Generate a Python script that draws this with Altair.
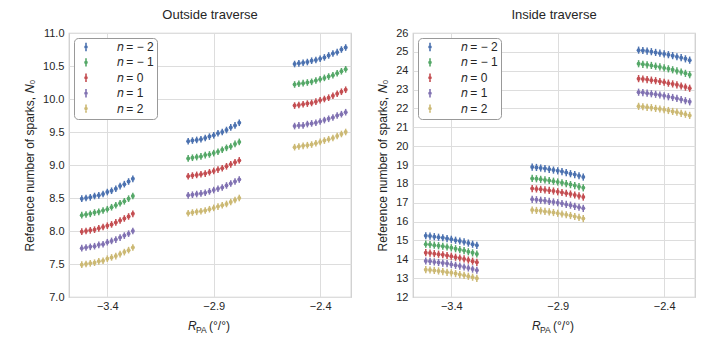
import altair as alt
import pandas as pd

CENTERS = [-3.4, -2.9, -2.4]
OFFSETS = [-0.12, -0.10, -0.08, -0.06, -0.04, -0.02, 0.0, 0.02, 0.04, 0.06, 0.08, 0.10, 0.12]
SERIES = ["\U0001D45B = \u2212 2", "\U0001D45B = \u2212 1", "\U0001D45B = 0", "\U0001D45B = 1", "\U0001D45B = 2"]
COLORS = ["#4C72B0", "#55A868", "#C44E52", "#8172B2", "#CCB974"]

# Outside traverse, one list per series (n=-2..2) for each cluster
OUT_C1 = [
    [8.49, 8.50, 8.51, 8.53, 8.54, 8.56, 8.59, 8.61, 8.64, 8.68, 8.71, 8.75, 8.79],
    [8.24, 8.25, 8.26, 8.28, 8.29, 8.31, 8.33, 8.36, 8.39, 8.42, 8.45, 8.49, 8.53],
    [7.99, 8.00, 8.01, 8.02, 8.04, 8.06, 8.08, 8.10, 8.13, 8.16, 8.19, 8.22, 8.26],
    [7.74, 7.75, 7.76, 7.77, 7.79, 7.80, 7.83, 7.85, 7.87, 7.90, 7.93, 7.96, 8.00],
    [7.49, 7.50, 7.51, 7.52, 7.54, 7.55, 7.58, 7.60, 7.62, 7.65, 7.68, 7.71, 7.75],
]
OUT_C2 = [
    [9.36, 9.37, 9.38, 9.39, 9.41, 9.43, 9.45, 9.48, 9.50, 9.53, 9.57, 9.60, 9.64],
    [9.10, 9.11, 9.12, 9.13, 9.15, 9.16, 9.18, 9.20, 9.23, 9.26, 9.28, 9.32, 9.35],
    [8.83, 8.84, 8.85, 8.86, 8.87, 8.89, 8.91, 8.93, 8.95, 8.98, 9.01, 9.04, 9.07],
    [8.54, 8.55, 8.56, 8.57, 8.58, 8.60, 8.62, 8.64, 8.66, 8.69, 8.72, 8.75, 8.78],
    [8.27, 8.28, 8.29, 8.30, 8.31, 8.33, 8.35, 8.37, 8.39, 8.41, 8.44, 8.47, 8.50],
]
OUT_C3 = [
    [10.53, 10.54, 10.55, 10.56, 10.58, 10.59, 10.61, 10.63, 10.66, 10.69, 10.71, 10.75, 10.78],
    [10.22, 10.23, 10.24, 10.25, 10.26, 10.28, 10.30, 10.32, 10.34, 10.36, 10.39, 10.42, 10.45],
    [9.90, 9.91, 9.92, 9.93, 9.94, 9.96, 9.98, 10.00, 10.02, 10.05, 10.08, 10.11, 10.14],
    [9.59, 9.60, 9.60, 9.62, 9.63, 9.64, 9.66, 9.68, 9.70, 9.72, 9.75, 9.77, 9.80],
    [9.27, 9.28, 9.29, 9.30, 9.31, 9.33, 9.35, 9.37, 9.39, 9.41, 9.44, 9.47, 9.50],
]
# Inside traverse
IN_C1 = [
    [15.25, 15.23, 15.20, 15.17, 15.14, 15.10, 15.06, 15.01, 14.97, 14.92, 14.86, 14.80, 14.74],
    [14.80, 14.78, 14.75, 14.72, 14.69, 14.65, 14.61, 14.56, 14.51, 14.46, 14.40, 14.34, 14.28],
    [14.35, 14.33, 14.30, 14.27, 14.24, 14.20, 14.16, 14.11, 14.07, 14.02, 13.96, 13.90, 13.84],
    [13.91, 13.89, 13.86, 13.83, 13.80, 13.77, 13.73, 13.68, 13.64, 13.59, 13.54, 13.48, 13.42],
    [13.45, 13.43, 13.41, 13.38, 13.35, 13.31, 13.28, 13.24, 13.19, 13.15, 13.10, 13.05, 12.99],
]
IN_C2 = [
    [18.89, 18.87, 18.84, 18.81, 18.77, 18.73, 18.69, 18.65, 18.60, 18.54, 18.49, 18.43, 18.36],
    [18.29, 18.27, 18.24, 18.21, 18.18, 18.14, 18.10, 18.06, 18.01, 17.96, 17.91, 17.85, 17.79],
    [17.75, 17.73, 17.71, 17.68, 17.65, 17.62, 17.58, 17.54, 17.50, 17.46, 17.41, 17.36, 17.30],
    [17.18, 17.16, 17.13, 17.11, 17.07, 17.04, 17.00, 16.96, 16.91, 16.87, 16.81, 16.76, 16.70],
    [16.61, 16.59, 16.57, 16.54, 16.51, 16.48, 16.44, 16.40, 16.36, 16.32, 16.27, 16.22, 16.16],
]
IN_C3 = [
    [25.09, 25.07, 25.04, 25.01, 24.97, 24.93, 24.89, 24.85, 24.80, 24.74, 24.69, 24.63, 24.56],
    [24.37, 24.34, 24.31, 24.28, 24.24, 24.20, 24.15, 24.10, 24.05, 23.99, 23.93, 23.86, 23.79],
    [23.58, 23.56, 23.53, 23.50, 23.47, 23.43, 23.39, 23.34, 23.30, 23.25, 23.19, 23.13, 23.07],
    [22.86, 22.84, 22.81, 22.78, 22.75, 22.71, 22.67, 22.62, 22.58, 22.53, 22.47, 22.41, 22.35],
    [22.11, 22.09, 22.06, 22.04, 22.00, 21.97, 21.93, 21.89, 21.84, 21.80, 21.74, 21.69, 21.63],
]
OUT_ERR = 0.05
IN_ERR = 0.19

OUT_YTICKS = [7.0, 7.5, 8.0, 8.5, 9.0, 9.5, 10.0, 10.5, 11.0]
IN_YTICKS = list(range(12, 27))
XTICKS = [-3.4, -2.9, -2.4]

FONT = "Liberation Sans"
W, H = 282, 264


def build(clusters, err):
    rows = []
    for c, cl in zip(CENTERS, clusters):
        for s, vals in zip(SERIES, cl):
            for o, v in zip(OFFSETS, vals):
                rows.append({"x": round(c + o, 3), "y": v, "lo": v - err, "hi": v + err, "n": s})
    return pd.DataFrame(rows)


def panel(df, title, ydom, yticks, yfmt):
    xenc = alt.X("x:Q", scale=alt.Scale(domain=[-3.58, -2.255], nice=False, zero=False),
                 axis=alt.Axis(values=XTICKS, format=".1f", title=None, labelOverlap=False))
    yscale = alt.Scale(domain=ydom, nice=False, zero=False)
    yaxis = alt.Axis(values=yticks, format=yfmt, labelOverlap=False,
                     title="Reference number of sparks, \U0001D441\u2080")
    leg = alt.Legend(title=None, orient="top-left", offset=5, padding=3,
                     strokeColor="#999999", cornerRadius=4, fillColor="white",
                     symbolType="M0,-1V1M-0.24,0A0.24,0.24 0 1,0 0.24,0A0.24,0.24 0 1,0 -0.24,0",
                     symbolSize=70, symbolStrokeWidth=1.6, symbolOffset=3, labelFontSize=12,
                     labelOffset=25, rowPadding=-0.6, labelFont=FONT, labelColor="#262626")
    cenc = alt.Color("n:N", scale=alt.Scale(domain=SERIES, range=COLORS), sort=SERIES, legend=leg)
    base = alt.Chart(df)
    rules = base.mark_rule(strokeWidth=1.5).encode(
        x=xenc, y=alt.Y("lo:Q", scale=yscale, axis=yaxis), y2="hi:Q", color=cenc)
    pts = base.mark_circle(size=16, opacity=1).encode(
        x=xenc, y=alt.Y("y:Q", scale=yscale, axis=yaxis), color=cenc)
    cx = W / 2
    t1 = alt.Chart(pd.DataFrame({"t": ["R"]})).mark_text(
        align="left", baseline="alphabetic", fontSize=12, fontStyle="italic", font=FONT,
        color="#262626").encode(text="t:N", x=alt.value(cx - 22), y=alt.value(H + 33))
    t2 = alt.Chart(pd.DataFrame({"t": ["PA"]})).mark_text(
        align="left", baseline="alphabetic", fontSize=8.5, font=FONT,
        color="#262626").encode(text="t:N", x=alt.value(cx - 14), y=alt.value(H + 36))
    t3 = alt.Chart(pd.DataFrame({"t": ["(°/°)"]})).mark_text(
        align="left", baseline="alphabetic", fontSize=12, font=FONT,
        color="#262626").encode(text="t:N", x=alt.value(cx - 1), y=alt.value(H + 33))
    return alt.layer(rules, pts, t1, t2, t3).properties(
        width=W, height=H,
        title=alt.TitleParams(title, fontSize=13, font=FONT, fontWeight="normal",
                              color="#262626", offset=5))


left = panel(build([OUT_C1, OUT_C2, OUT_C3], OUT_ERR), "Outside traverse", [7, 11], OUT_YTICKS, ".1f")
right = panel(build([IN_C1, IN_C2, IN_C3], IN_ERR), "Inside traverse", [12, 26], IN_YTICKS, "d")

chart = alt.hconcat(left, right, spacing=24).resolve_scale(
    x="independent", y="independent", color="independent"
).resolve_legend(color="independent").properties(
    padding={"left": 14, "top": 0, "right": 5, "bottom": 0}
).configure_view(stroke="#cccccc", strokeWidth=1.25).configure_axis(
    grid=True, gridColor="#dddddd", gridWidth=1, domain=False, ticks=False,
    labelFont=FONT, labelFontSize=11, labelColor="#262626", labelPadding=5,
    titleFont=FONT, titleFontSize=12, titleFontWeight="normal", titleColor="#262626", titlePadding=6
).configure_axisX(labelPadding=3).configure_text(font=FONT)

chart.save("out.html", embed_options={"renderer": "svg", "actions": False})
